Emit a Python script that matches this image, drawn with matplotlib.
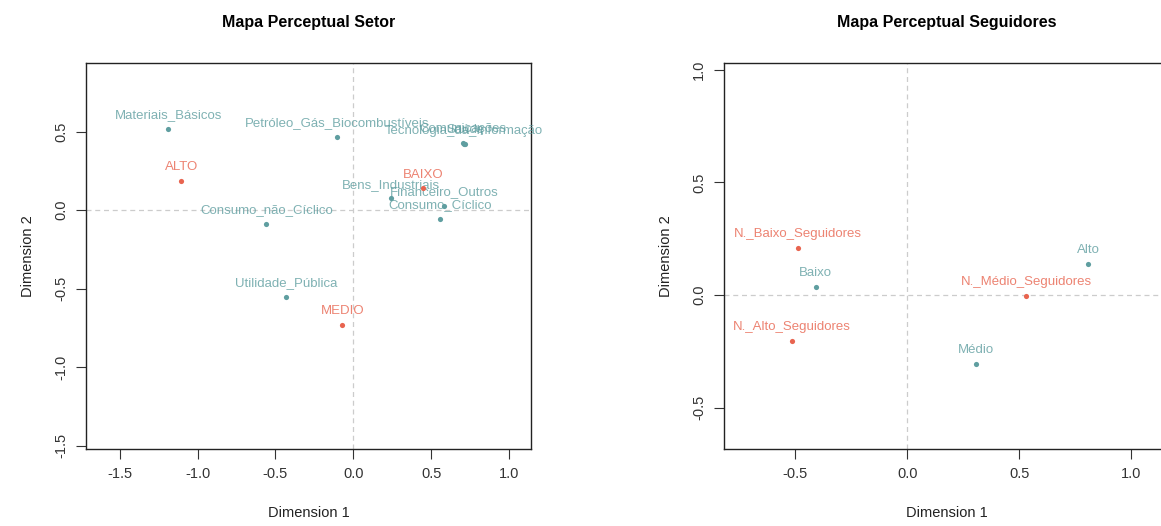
import numpy as np
import matplotlib
matplotlib.use("Agg")
import matplotlib.pyplot as plt

# --- data ---
setor_names = ["Materiais_Básicos", "Petróleo_Gás_Biocombustíveis", "Tecnologia_da_Informação",
               "Comunicações", "Saúde", "Bens_Industriais", "Financeiro_Outros",
               "Consumo_Cíclico", "Consumo_não_Cíclico", "Utilidade_Pública"]
setor_x = [-1.188, -0.105, 0.711, 0.705, 0.718, 0.242, 0.585, 0.559, -0.559, -0.434]
setor_y = [0.516, 0.463, 0.418, 0.425, 0.421, 0.074, 0.027, -0.057, -0.091, -0.554]

nivel_names = ["ALTO", "BAIXO", "MEDIO"]
nivel_x = [-1.105, 0.449, -0.071]
nivel_y = [0.185, 0.138, -0.731]

porte_names = ["Alto", "Baixo", "Médio"]
porte_x = [0.808, -0.408, 0.305]
porte_y = [0.136, 0.036, -0.305]

seg_names = ["N._Baixo_Seguidores", "N._Alto_Seguidores", "N._Médio_Seguidores"]
seg_x = [-0.489, -0.516, 0.530]
seg_y = [0.209, -0.206, -0.006]

teal = "#5F9EA0"
red = "#E8644F"

W, H = 1161, 526
fig = plt.figure(figsize=(W / 100, H / 100), dpi=100)
plt.rcParams['font.family'] = ['Liberation Sans', 'DejaVu Sans']


def make_axes(left, right, top, bottom):
    return fig.add_axes([left / W, 1 - bottom / H, (right - left) / W, (bottom - top) / H])


def draw_points(ax, xs, ys, names, color):
    ax.scatter(xs, ys, s=14, color=color, zorder=3, linewidths=0)
    for x, y, n in zip(xs, ys, names):
        ax.annotate(n, (x, y), xytext=(0, 10), textcoords="offset points",
                    ha="center", va="center", fontsize=9.5, color=color,
                    alpha=0.8, annotation_clip=False, clip_on=False)


def style(ax, title, xticks, yticks):
    ax.axhline(0, color="#cccccc", ls=(0, (4, 3)), lw=0.9, zorder=1)
    ax.axvline(0, color="#cccccc", ls=(0, (4, 3)), lw=0.9, zorder=1)
    ax.set_xticks(xticks)
    ax.set_yticks(yticks)
    ax.set_xticklabels(["%.1f" % t for t in xticks])
    ax.set_yticklabels(["%.1f" % t for t in yticks], rotation=90, va="center")
    ax.tick_params(direction="out", length=7, width=0.8, labelsize=10.5,
                   colors="#333333", pad=6)
    ax.tick_params(axis="y", pad=6)
    for sp in ax.spines.values():
        sp.set_linewidth(1.0)
        sp.set_color("#222222")
    ax.set_xlabel("Dimension 1", fontsize=10.5, labelpad=18, color="#222222")
    ax.set_ylabel("Dimension 2", fontsize=10.5, labelpad=14, color="#222222")
    ax.set_title(title, fontsize=11.5, fontweight="bold", pad=26)


# left panel
ax1 = make_axes(86, 531, 63, 449)
ax1.set_xlim(-1.717, 1.141)
ax1.set_ylim(-1.52, 0.936)
style(ax1, "Mapa Perceptual Setor", [-1.5, -1.0, -0.5, 0.0, 0.5, 1.0],
      [-1.5, -1.0, -0.5, 0.0, 0.5])
draw_points(ax1, setor_x, setor_y, setor_names, teal)
draw_points(ax1, nivel_x, nivel_y, nivel_names, red)

# right panel
ax2 = make_axes(724, 1170, 63, 449)
ax2.set_xlim(-0.818, 1.173)
ax2.set_ylim(-0.684, 1.03)
style(ax2, "Mapa Perceptual Seguidores", [-0.5, 0.0, 0.5, 1.0],
      [-0.5, 0.0, 0.5, 1.0])
ax2.title.set_position((0.5 - 0.0, 1.0))
draw_points(ax2, porte_x, porte_y, porte_names, teal)
draw_points(ax2, seg_x, seg_y, seg_names, red)

fig.savefig("out.png", dpi=100, facecolor="white")
